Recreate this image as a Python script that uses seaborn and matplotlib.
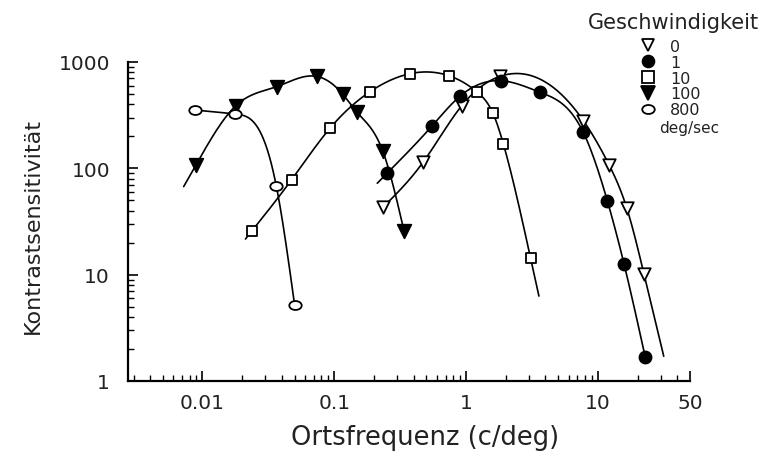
import numpy as np
import pandas as pd
import seaborn as sns
import matplotlib.pyplot as plt
from matplotlib.lines import Line2D
from matplotlib.path import Path
from matplotlib.transforms import Affine2D
from matplotlib.ticker import FixedLocator, FixedFormatter, LogLocator, NullFormatter

# ---- data ----
velocity_labels = ["0", "1", "10", "100", "800"]

freq_v0 = [0.234, 0.474, 0.927, 1.81, 7.76, 12.2, 16.6, 22.4]
cs_v0 = [43, 115, 388, 733, 281, 107, 42, 10.1]

freq_v1 = [0.252, 0.548, 0.905, 1.83, 3.64, 7.75, 11.8, 15.8, 22.9]
cs_v1 = [90, 248, 480, 667, 519, 218, 49.5, 12.6, 1.67]

freq_v10 = [0.0238, 0.0474, 0.0927, 0.186, 0.375, 0.741, 1.22, 1.6, 1.92, 3.09]
cs_v10 = [25.9, 78, 238, 524, 776, 743, 519, 329, 169, 14.2]

freq_v100 = [0.0089, 0.0179, 0.0365, 0.0734, 0.1156, 0.1476, 0.234, 0.338]
cs_v100 = [107, 388, 586, 733, 500, 341, 144, 25.9]

freq_v800 = [0.00885, 0.0178, 0.0363, 0.05]
cs_v800 = [353, 324, 68.5, 5.2]

# extent of each smooth curve along the frequency axis
curve_lo = [0.23, 0.212, 0.0212, 0.0072, 0.0088]
curve_hi = [31.6, 22.9, 3.57, 0.338, 0.05]

x_ticks = [0.01, 0.1, 1, 10, 50]
x_tick_labels = ["0.01", "0.1", "1", "10", "50"]
y_ticks = [1, 10, 100, 1000]
y_tick_labels = ["1", "10", "100", "1000"]

freqs = [freq_v0, freq_v1, freq_v10, freq_v100, freq_v800]
css = [cs_v0, cs_v1, cs_v10, cs_v100, cs_v800]


def smooth_curve(x, y, xq):
    """Natural cubic spline through (x, y), linear beyond the ends."""
    x = np.asarray(x, float); y = np.asarray(y, float)
    n = len(x); h = np.diff(x)
    A = np.zeros((n, n)); r = np.zeros(n)
    A[0, 0] = 1; A[-1, -1] = 1
    for i in range(1, n - 1):
        A[i, i - 1] = h[i - 1]; A[i, i] = 2 * (h[i - 1] + h[i]); A[i, i + 1] = h[i]
        r[i] = 3 * ((y[i + 1] - y[i]) / h[i] - (y[i] - y[i - 1]) / h[i - 1])
    c = np.linalg.solve(A, r)
    b = (y[1:] - y[:-1]) / h - h * (2 * c[:-1] + c[1:]) / 3
    d = (c[1:] - c[:-1]) / (3 * h)
    out = np.empty_like(xq)
    for k, q in enumerate(xq):
        if q <= x[0]:
            out[k] = y[0] + b[0] * (q - x[0])
        elif q >= x[-1]:
            s = b[-1] + 2 * c[-2] * h[-1] + 3 * d[-1] * h[-1] ** 2
            out[k] = y[-1] + s * (q - x[-1])
        else:
            i = min(np.searchsorted(x, q) - 1, n - 2)
            t = q - x[i]
            out[k] = y[i] + b[i] * t + c[i] * t ** 2 + d[i] * t ** 3
    return out


# ---- styling ----
sns.set_theme(style="ticks")
plt.rcParams['font.family'] = ['DejaVu Sans']

ellipse = Path.unit_circle().transformed(Affine2D().scale(1.0, 0.72))
markers = ['v', 'o', 's', 'v', ellipse]
faces = ['white', 'black', 'white', 'black', 'white']
sizes = [80, 75, 60, 95, 80]

fig = plt.figure(figsize=(7.58, 4.52), dpi=100)
W, H = 758, 452
ax = fig.add_axes([128 / W, 1 - 382 / H, (690 - 128) / W, (382 - 63) / H])

rows = []
for lab, f, c in zip(velocity_labels, freqs, css):
    for fi, ci in zip(f, c):
        rows.append({"v": lab, "f": fi, "cs": ci})
df = pd.DataFrame(rows)

for i, lab in enumerate(velocity_labels):
    lq = np.linspace(np.log10(curve_lo[i]), np.log10(curve_hi[i]), 300)
    ly = smooth_curve(np.log10(freqs[i]), np.log10(css[i]), lq)
    cdf = pd.DataFrame({"f": 10 ** lq, "cs": 10 ** ly})
    sns.lineplot(data=cdf, x="f", y="cs", ax=ax, color='black', lw=1.2,
                 sort=False, estimator=None, zorder=2)

for i, lab in enumerate(velocity_labels):
    sub = df[df.v == lab]
    sns.scatterplot(data=sub, x="f", y="cs", ax=ax, marker=markers[i],
                    s=sizes[i], color=faces[i], edgecolor='black',
                    linewidth=1.3, zorder=3, legend=False)

ax.set_xscale('log')
ax.set_yscale('log')
ax.set_xlim(10 ** -2.565, 50)
ax.set_ylim(1, 1000)

ax.xaxis.set_major_locator(FixedLocator(x_ticks))
ax.xaxis.set_major_formatter(FixedFormatter(x_tick_labels))
ax.xaxis.set_minor_locator(LogLocator(base=10, subs=np.arange(2, 10)))
ax.xaxis.set_minor_formatter(NullFormatter())
ax.yaxis.set_major_locator(FixedLocator(y_ticks))
ax.yaxis.set_major_formatter(FixedFormatter(y_tick_labels))
ax.yaxis.set_minor_locator(LogLocator(base=10, subs=np.arange(2, 10)))
ax.yaxis.set_minor_formatter(NullFormatter())

ax.tick_params(axis='both', which='major', direction='in', length=7, width=1.2,
               labelsize=14.5, color='black', labelcolor='#222222')
ax.tick_params(axis='both', which='minor', direction='in', length=4, width=1.0,
               color='black')
ax.tick_params(axis='y', which='major', pad=13)
ax.tick_params(axis='x', which='major', pad=9)

for s in ['top', 'right']:
    ax.spines[s].set_visible(False)
for s in ['left', 'bottom']:
    ax.spines[s].set_linewidth(1.6)
    ax.spines[s].set_color('black')

ax.set_xlabel("")
ax.set_ylabel("")

fig.text(425 / W, 1 - 438 / H, "Ortsfrequenz (c/deg)", ha='center', va='center',
         fontsize=18.5, color='#222222')
fig.text(33 / W, 1 - 226 / H, "Kontrastsensitivität", ha='center', va='center',
         rotation=90, fontsize=16, color='#222222')

# legend
handles = [Line2D([], [], marker=markers[i], linestyle='none', markersize=[9, 8.5, 8, 10, 9][i],
                  markerfacecolor=faces[i], markeredgecolor='black', markeredgewidth=1.3)
           for i in range(5)]
leg = fig.legend(handles, velocity_labels, loc='upper left',
                 bbox_to_anchor=(640 / W, 1 - 40 / H), frameon=False,
                 fontsize=11.5, handlelength=1.0, handletextpad=0.9,
                 labelspacing=0.05, borderpad=0, borderaxespad=0)
for t in leg.get_texts():
    t.set_color('#222222')
fig.text(588 / W, 1 - 23 / H, "Geschwindigkeit", ha='left', va='center',
         fontsize=15, color='#222222')
fig.text(659 / W, 1 - 129 / H, "deg/sec", ha='left', va='center',
         fontsize=11, color='#222222')

fig.savefig("out.png", dpi=100)
